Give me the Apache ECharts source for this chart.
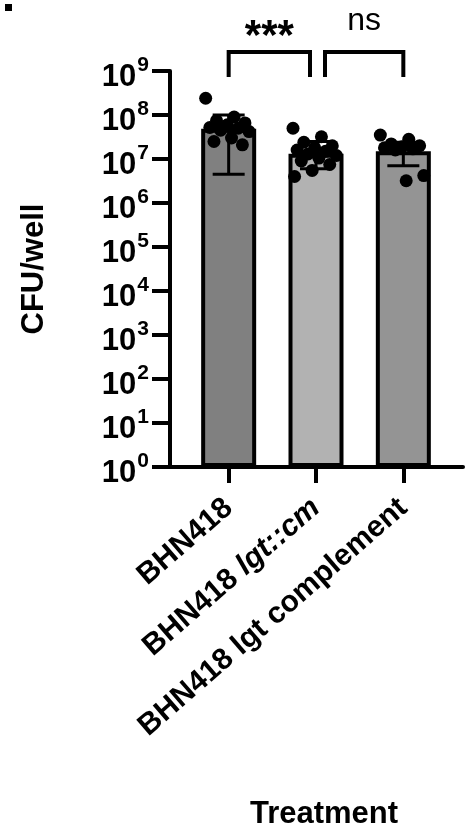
<!DOCTYPE html>
<html><head><meta charset="utf-8">
<script src="https://cdn.jsdelivr.net/npm/echarts@6/dist/echarts.min.js"></script>
<style>html,body{margin:0;padding:0;background:#fff}#c{width:465px;height:838px}</style>
</head><body><div id="c"></div>
<script>
// ---- data ----
const categories = ['BHN418', 'BHN418 lgt::cm', 'BHN418 lgt complement'];
const italicPart = ['', 'lgt::cm', ''];
const barMeans = [4.9e7, 1.32e7, 1.5e7];
const errLow = [4.5e6, 6.0e6, 7.0e6];
const errHigh = [1.0e8, 2.5e7, 2.4e7];
const pointsBHN418 = [2.4e8, 9.0e7, 7.5e7, 6.6e7, 6.0e7, 5.2e7, 5.0e7, 4.5e7, 4.2e7, 3.0e7, 2.5e7, 2.1e7];
const pointsLgtCm = [5.0e7, 3.2e7, 2.4e7, 2.0e7, 1.8e7, 1.6e7, 1.5e7, 1.3e7, 1.2e7, 1.05e7, 9.0e6, 7.5e6, 5.5e6, 4.0e6];
const pointsComplement = [3.5e7, 2.8e7, 2.2e7, 2.0e7, 1.9e7, 1.8e7, 1.7e7, 1.6e7, 4.2e6, 3.2e6];
const yTickExponents = [0, 1, 2, 3, 4, 5, 6, 7, 8, 9];
const comparisons = [[0, 1, '***'], [1, 2, 'ns']];
const barColors = ['#808080', '#b2b2b2', '#949494'];
const yAxisTitle = 'CFU/well';
const xAxisTitle = 'Treatment';

// ---- build ----
const FONT = "'Liberation Sans', Arial, sans-serif";
const groups = [pointsBHN418, pointsLgtCm, pointsComplement];
const dotData = [];
groups.forEach((g, i) => g.forEach((v, j) => dotData.push([i, v, j])));

const chart = echarts.init(document.getElementById('c'), null, {renderer: 'canvas'});
chart.setOption({
  animation: false,
  backgroundColor: '#fff',
  graphic: [{type: 'rect', left: 5, top: 4, shape: {width: 7, height: 7}, style: {fill: '#000'}}],
  grid: [
    {left: 185, right: 18, top: 71, bottom: 371},
    {left: 170, right: 2, top: 71, bottom: 371}
  ],
  xAxis: [
    {
      type: 'category', gridIndex: 0, data: categories,
      axisLine: {show: false},
      axisTick: {show: true, alignWithLabel: true, length: 16, lineStyle: {width: 4, color: '#000'}},
      axisLabel: {
        rotate: 41, margin: 37, interval: 0,
        formatter: (val, idx) => {
          const it = italicPart[idx];
          if (it) return '{n|' + val.replace(it, '') + '}{i|' + it + '}';
          return '{n|' + val + '}';
        },
        rich: {
          n: {fontFamily: FONT, fontWeight: 'bold', fontSize: 30, color: '#000'},
          i: {fontFamily: FONT, fontWeight: 'bold', fontStyle: 'italic', fontSize: 30, color: '#000'}
        }
      },
      name: xAxisTitle, nameLocation: 'middle', nameGap: 332,
      nameTextStyle: {fontFamily: FONT, fontWeight: 'bold', fontSize: 31, color: '#000', padding: [0, 0, 0, 16]}
    },
    {
      type: 'value', gridIndex: 1, min: 0, max: 1,
      axisLine: {show: true, lineStyle: {width: 4, color: '#000'}},
      axisTick: {show: false}, axisLabel: {show: false}, splitLine: {show: false}
    }
  ],
  yAxis: [
    {
      type: 'log', gridIndex: 0, logBase: 10, min: Math.pow(10, yTickExponents[0]), max: Math.pow(10, yTickExponents[yTickExponents.length - 1]),
      offset: 15,
      axisLine: {show: true, lineStyle: {width: 4, color: '#000'}},
      axisTick: {show: true, length: 18, lineStyle: {width: 4, color: '#000'}},
      splitLine: {show: false},
      axisLabel: {
        margin: 21, showMinLabel: true, showMaxLabel: true, hideOverlap: false,
        formatter: (v) => {
          const e = Math.round(Math.log10(v));
          return yTickExponents.includes(e) ? '{b|10}{s|' + e + '}' : '';
        },
        rich: {
          b: {fontFamily: FONT, fontWeight: 'bold', fontSize: 31, color: '#000', lineHeight: 24, padding: [12, 0, 0, 0]},
          s: {fontFamily: FONT, fontWeight: 'bold', fontSize: 21, color: '#000', lineHeight: 16, padding: [0, 0, 12, 1]}
        }
      },
      name: yAxisTitle, nameLocation: 'middle', nameGap: 120, nameRotate: 90,
      nameTextStyle: {fontFamily: FONT, fontWeight: 'bold', fontSize: 31, color: '#000'}
    },
    {type: 'log', gridIndex: 1, min: 1, max: 1e9, show: false}
  ],
  series: [
    {
      type: 'bar', xAxisIndex: 0, yAxisIndex: 0, barWidth: 55,
      data: barMeans.map((v, i) => ({value: v, itemStyle: {color: barColors[i]}})),
      itemStyle: {borderColor: '#000', borderWidth: 4}, z: 2
    },
    {
      type: 'custom', xAxisIndex: 0, yAxisIndex: 0, z: 4,
      data: dotData,
      renderItem: (params, api) => {
        const p = api.coord([api.value(0), api.value(1)]);
        const j = api.value(2);
        const dx = (((j * 0.618034) % 1) - 0.5) * 46;
        return {type: 'circle', shape: {cx: p[0] + dx, cy: p[1], r: 6.5}, style: {fill: '#000'}};
      }
    },
    {
      type: 'custom', xAxisIndex: 0, yAxisIndex: 0, z: 5,
      data: categories.map((c, i) => [i, errLow[i], errHigh[i]]),
      renderItem: (params, api) => {
        const lo = api.coord([api.value(0), api.value(1)]);
        const hi = api.coord([api.value(0), api.value(2)]);
        const h = 16, st = {stroke: '#000', lineWidth: 3};
        return {type: 'group', children: [
          {type: 'line', shape: {x1: lo[0], y1: lo[1], x2: hi[0], y2: hi[1]}, style: st},
          {type: 'line', shape: {x1: lo[0] - h, y1: lo[1], x2: lo[0] + h, y2: lo[1]}, style: st},
          {type: 'line', shape: {x1: hi[0] - h, y1: hi[1], x2: hi[0] + h, y2: hi[1]}, style: st}
        ]};
      }
    },
    {
      type: 'custom', xAxisIndex: 0, yAxisIndex: 0, z: 6, clip: false,
      data: comparisons,
      renderItem: (params, api) => {
        const idx = params.dataIndex;
        const a = api.coord([api.value(0), 1e9]);
        const b = api.coord([api.value(1), 1e9]);
        const x1 = a[0] + (idx > 0 ? 9 : 0);
        const x2 = b[0] - (idx < comparisons.length - 1 ? 6 : 0);
        const yTop = a[1] - 19, yBot = a[1] + 6;
        const label = comparisons[idx][2];
        const isStar = label.indexOf('*') >= 0;
        return {type: 'group', children: [
          {type: 'polyline', shape: {points: [[x1, yBot], [x1, yTop], [x2, yTop], [x2, yBot]]}, style: {stroke: '#000', lineWidth: 4, fill: null}},
          {type: 'text', style: {
            text: label, x: (x1 + x2) / 2, y: isStar ? yTop - 15 : yTop - 31,
            align: 'center', verticalAlign: 'middle',
            font: (isStar ? 'bold 42px ' : '32px ') + FONT, fill: '#000'
          }}
        ]};
      }
    }
  ]
});
</script></body></html>
